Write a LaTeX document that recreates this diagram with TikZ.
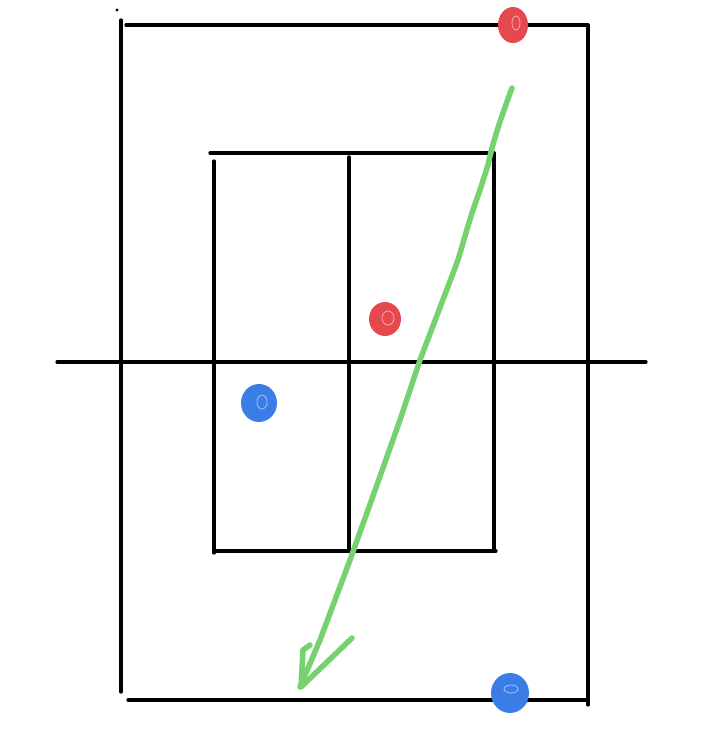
\documentclass[tikz,border=0pt]{standalone}
\usetikzlibrary{calc}
\definecolor{dotred}{HTML}{E5484D}
\definecolor{dotblue}{HTML}{3A7DE6}
\definecolor{pengreen}{HTML}{78D16F}
\tikzset{
  ink/.style={line width=3.3pt, line cap=round, black},
  greenpen/.style={line width=5.5pt, line cap=round, line join=round, pengreen},
  reddot/.style={fill=dotred, draw=none},
  bluedot/.style={fill=dotblue, draw=none},
  shine/.style={draw=white, line width=0.8pt, opacity=0.55}
}
\begin{document}
\begin{tikzpicture}[x=1pt,y=-1pt]
\useasboundingbox[fill=white] (0,0) rectangle (721,731);
% outer frame
\draw[ink] (121,20) -- (121,692);
\draw[ink] (126,25) -- (588,25);
\draw[ink] (588,25) -- (588,705);
\draw[ink] (128,700) -- (586,700);
\fill (117,10) circle (1.7);
% inner frame
\draw[ink] (210,153) -- (494,153);
\draw[ink] (214,161) -- (214,553);
\draw[ink] (349,157) -- (349,550);
\draw[ink] (494,153) -- (494,551);
\draw[ink] (214,551) -- (496,551);
% axis
\draw[ink] (57,362) -- (646,362);
% dots
\fill[reddot] (513,25) ellipse (15 and 18);
\draw[shine] (516,23) ellipse (4 and 7);
\fill[reddot] (385,319) ellipse (16 and 17);
\draw[shine] (388,318) ellipse (6 and 7);
\fill[bluedot] (259,403) ellipse (18 and 19);
\draw[shine] (262,402) ellipse (5 and 7);
\fill[bluedot] (510,693) ellipse (19 and 20);
\draw[shine] (511,689) ellipse (7 and 4);
% green arrow
\draw[greenpen] (512,88) .. controls (500,120) and (492,145) .. (488,165)
  -- (480,190) .. controls (466,228) and (462,250) .. (455,268)
  -- (420,360) -- (400,420) -- (378,482) -- (350,560) -- (320,640) -- (300,687);
\draw[greenpen] (310,645) -- (303,650) -- (301,687) -- (352,638);
\end{tikzpicture}
\end{document}
